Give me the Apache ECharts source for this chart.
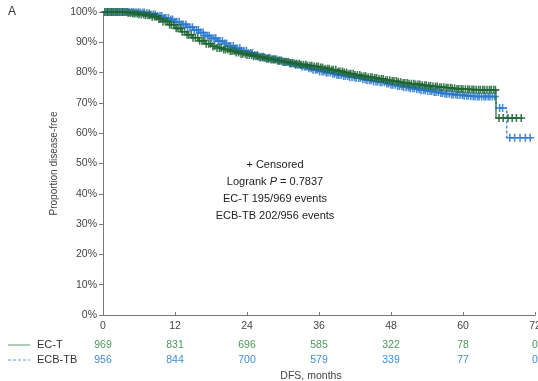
<!DOCTYPE html>
<html>
<head>
<meta charset="utf-8">
<title>DFS</title>
<script src="https://cdn.jsdelivr.net/npm/echarts@6/dist/echarts.min.js"></script>
<style>
  html, body { margin: 0; padding: 0; background: #fff; }
  #chart { width: 538px; height: 381px; }
</style>
</head>
<body>
<div id="chart"></div>
<script>
// KM curves: [month, % disease-free]
var ectCurve = [[0,100],[2,100],[4,99.7],[5,99.5],[6,99.2],[7,98.9],[8,98.4],[9,97.7],[10,96.9],[11,95.8],[12,94.6],[13,93.5],[14,92.5],[15,91.5],[16,90.5],[17,89.5],[18,88.7],[19,88.1],[20,87.6],[21,87.1],[22,86.6],[23,86.2],[24,85.8],[25,85.4],[26,85],[27,84.6],[28,84.3],[29,83.9],[30,83.6],[31,83.2],[32,82.9],[33,82.6],[34,82.3],[35,82],[36,81.7],[37,81.3],[38,80.9],[39,80.4],[40,80],[41,79.6],[42,79.2],[43,78.8],[44,78.5],[45,78.2],[46,77.9],[47,77.5],[48,77.2],[49,76.9],[50,76.6],[51,76.3],[52,76.1],[53,75.8],[54,75.6],[55,75.4],[56,75.2],[57,75],[58,74.8],[59,74.6],[60,74.5],[61,74.4],[62,74.3],[65.5,65],[70,65]];
var ecbCurve = [[0,100],[5,99.9],[6,99.8],[7,99.6],[8,99.2],[9,98.7],[10,98],[11,97.5],[12,96.8],[13,95.9],[14,95],[15,94.1],[16,93.2],[17,92.2],[18,91.3],[19,90.4],[20,89.6],[21,88.8],[22,88],[23,87.2],[24,86.5],[25,85.8],[26,85.2],[27,84.8],[28,84.4],[29,84],[30,83.5],[31,83],[32,82.5],[33,81.9],[34,81.4],[35,80.9],[36,80.4],[37,80],[38,79.6],[39,79.2],[40,78.9],[41,78.5],[42,78.2],[43,77.8],[44,77.5],[45,77.1],[46,76.8],[47,76.4],[48,76],[49,75.6],[50,75.2],[51,74.8],[52,74.5],[53,74.2],[54,73.9],[55,73.6],[56,73.3],[57,73],[58,72.8],[59,72.6],[60,72.4],[61,72.2],[62,72.1],[65.5,68.3],[67.3,58.5],[71.5,58.5]];

// censoring times (months)
var ectCensor = [0.3,0.7,1.0,1.4,1.7,2.1,2.4,2.8,3.2,3.5,3.9,4.2,4.6,5.0,5.3,5.7,6.0,6.4,6.8,7.1,7.5,7.8,8.2,8.6,8.9,9.3,9.6,10.0,10.4,10.7,11.1,11.4,11.8,12.2,12.5,12.9,13.2,13.6,14.0,14.3,14.7,15.0,15.4,15.8,16.1,16.5,16.8,17.2,17.6,17.9,18.3,18.6,19.0,19.4,19.7,20.1,20.4,20.8,21.2,21.5,21.9,22.2,22.6,23.0,23.3,23.7,24.0,24.4,24.8,25.1,25.5,25.8,26.2,26.6,26.9,27.3,27.6,28.0,28.4,28.7,29.1,29.4,29.8,30.2,30.5,30.9,31.2,31.6,32.0,32.3,32.7,33.0,33.4,33.8,34.1,34.5,34.8,35.2,35.6,35.9,36.3,36.6,37.0,37.4,37.7,38.1,38.4,38.8,39.2,39.5,39.9,40.2,40.6,41.0,41.3,41.7,42.0,42.4,42.8,43.1,43.5,43.8,44.2,44.6,44.9,45.3,45.6,46.0,46.4,46.7,47.1,47.4,47.8,48.2,48.5,48.9,49.2,49.6,50.0,50.3,50.7,51.0,51.4,51.8,52.1,52.5,52.8,53.2,53.6,53.9,54.3,54.6,55.0,55.4,55.7,56.1,56.4,56.8,57.2,57.5,57.9,58.2,58.6,59.0,59.3,59.7,60.0,60.4,60.8,61.1,61.5,61.8,62.2,62.6,62.9,63.3,63.6,64.0,64.4,64.7,65.1,65.4,66.0,66.7,67.5,68.2,68.9,69.7];
var ecbCensor = [0.5,0.8,1.2,1.5,1.9,2.3,2.6,3.0,3.3,3.7,4.1,4.4,4.8,5.1,5.5,5.9,6.2,6.6,6.9,7.3,7.7,8.0,8.4,8.7,9.1,9.5,9.8,10.2,10.5,10.9,11.3,11.6,12.0,12.3,12.7,13.1,13.4,13.8,14.1,14.5,14.9,15.2,15.6,15.9,16.3,16.7,17.0,17.4,17.7,18.1,18.5,18.8,19.2,19.5,19.9,20.3,20.6,21.0,21.3,21.7,22.1,22.4,22.8,23.1,23.5,23.9,24.2,24.6,24.9,25.3,25.7,26.0,26.4,26.7,27.1,27.5,27.8,28.2,28.5,28.9,29.3,29.6,30.0,30.3,30.7,31.1,31.4,31.8,32.1,32.5,32.9,33.2,33.6,33.9,34.3,34.7,35.0,35.4,35.7,36.1,36.5,36.8,37.2,37.5,37.9,38.3,38.6,39.0,39.3,39.7,40.1,40.4,40.8,41.1,41.5,41.9,42.2,42.6,42.9,43.3,43.7,44.0,44.4,44.7,45.1,45.5,45.8,46.2,46.5,46.9,47.3,47.6,48.0,48.3,48.7,49.1,49.4,49.8,50.1,50.5,50.9,51.2,51.6,51.9,52.3,52.7,53.0,53.4,53.7,54.1,54.5,54.8,55.2,55.5,55.9,56.3,56.6,57.0,57.3,57.7,58.1,58.4,58.8,59.1,59.5,59.9,60.2,60.6,60.9,61.3,61.7,62.0,62.4,62.7,63.1,63.5,63.8,64.2,64.5,64.9,65.3,66.1,66.6,67.8,68.6,69.5,70.4,71.2];

var monthTicks = [0, 12, 24, 36, 48, 60, 72];
var ectRisk = [969, 831, 696, 585, 322, 78, 0];
var ecbRisk = [956, 844, 700, 579, 339, 77, 0];

var green = '#1f6532';
var blue = '#2a78cc';
var font = 'Liberation Sans, Arial, sans-serif';

function survAt(curve, t) {
  var v = curve[0][1];
  for (var i = 0; i < curve.length; i++) {
    if (curve[i][0] <= t) v = curve[i][1];
  }
  return v;
}
function censorPts(curve, times) {
  return times.map(function (t) { return [t, survAt(curve, t)]; });
}

var plus = 'path://M2,0H3V2H5V3H3V5H2V3H0V2H2Z';

var chart = echarts.init(document.getElementById('chart'));

var riskAxis = function (arr, color, offset) {
  return {
    type: 'value', min: 0, max: 72, interval: 12, gridIndex: 0,
    position: 'bottom', offset: offset,
    axisLine: { show: false }, axisTick: { show: false }, splitLine: { show: false },
    axisLabel: {
      margin: 5, fontSize: 10.5, color: color, fontFamily: font,
      formatter: function (v) { return arr[monthTicks.indexOf(v)]; }
    }
  };
};

chart.setOption({
  animation: false,
  grid: { left: 103, right: 3, top: 12, bottom: 66, outerBoundsMode: 'none' },
  xAxis: [
    {
      type: 'value', min: 0, max: 72, interval: 12,
      axisLine: { lineStyle: { color: '#777', width: 1 } },
      axisTick: { inside: true, length: 3, lineStyle: { color: '#777' } },
      splitLine: { show: false },
      axisLabel: { margin: 6, fontSize: 10.5, color: '#444', fontFamily: font }
    },
    riskAxis(ectRisk, '#4c9a5c', 20),
    riskAxis(ecbRisk, '#3d8fd6', 35)
  ],
  yAxis: {
    type: 'value', min: 0, max: 100, interval: 10,
    name: 'Proportion disease-free', nameLocation: 'middle', nameGap: 41,
    nameTextStyle: { fontSize: 10, color: '#444', fontFamily: font },
    axisLine: { show: true, lineStyle: { color: '#777', width: 1 } },
    axisTick: { show: true, length: 4, lineStyle: { color: '#777' } },
    splitLine: { show: false },
    axisLabel: { margin: 6, fontSize: 10.5, color: '#444', fontFamily: font, formatter: '{value}%' }
  },
  series: [
    {
      type: 'line', step: 'end', data: ecbCurve, showSymbol: false,
      lineStyle: { color: blue, width: 1.2, type: [3, 2] }, z: 2
    },
    {
      type: 'scatter', data: censorPts(ecbCurve, ecbCensor), symbol: plus, symbolSize: 8,
      itemStyle: { color: blue, opacity: 0.85 }, z: 3
    },
    {
      type: 'line', step: 'end', data: ectCurve, showSymbol: false,
      lineStyle: { color: green, width: 1.2 }, z: 4
    },
    {
      type: 'scatter', data: censorPts(ectCurve, ectCensor), symbol: plus, symbolSize: 8,
      itemStyle: { color: green, opacity: 0.85 }, z: 5
    }
  ],
  graphic: [
    { type: 'text', left: 8, top: 6, style: { text: 'A', fontSize: 12, fill: '#333', fontFamily: font } },
    {
      type: 'text', x: 275, y: 190,
      style: {
        text: '+ Censored\nLogrank {i|P} = 0.7837\nEC-T 195/969 events\nECB-TB 202/956 events',
        rich: { i: { fontStyle: 'italic', fontSize: 11, fill: '#222', fontFamily: font } },
        fontSize: 11, lineHeight: 17, fill: '#222', fontFamily: font,
        align: 'center', verticalAlign: 'middle'
      }
    },
    { type: 'line', shape: { x1: 8, y1: 345, x2: 30, y2: 345 }, style: { stroke: '#5aa06a', lineWidth: 1 } },
    { type: 'text', x: 37, y: 345, style: { text: 'EC-T', fontSize: 11, fill: '#333', fontFamily: font, verticalAlign: 'middle' } },
    { type: 'line', shape: { x1: 8, y1: 360, x2: 30, y2: 360 }, style: { stroke: '#5a9ad8', lineWidth: 1, lineDash: [3, 2] } },
    { type: 'text', x: 37, y: 360, style: { text: 'ECB-TB', fontSize: 11, fill: '#333', fontFamily: font, verticalAlign: 'middle' } },
    { type: 'text', x: 311, y: 376, style: { text: 'DFS, months', fontSize: 10.5, fill: '#444', fontFamily: font, align: 'center', verticalAlign: 'middle' } }
  ]
});
</script>
</body>
</html>
